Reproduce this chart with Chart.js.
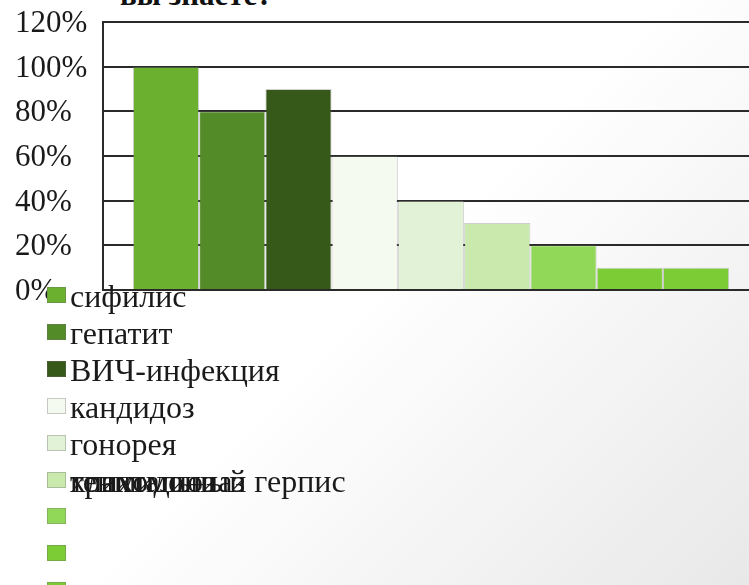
<!DOCTYPE html>
<html>
<head>
<meta charset="utf-8">
<script src="https://cdn.jsdelivr.net/npm/chart.js@4"></script>
<style>
  html, body {
    margin: 0;
    width: 749px;
    height: 585px;
    overflow: hidden;
    background: linear-gradient(135deg, #ffffff 50%, #e8e8e8 100%);
  }
  #wrap {
    position: absolute;
    left: 0;
    top: 0;
    width: 770px;
    height: 585px;
  }
  #title {
    position: absolute;
    left: 120px;
    top: -21px;
    font: bold 31px "Liberation Serif", serif;
    line-height: 31px;
    color: #111;
    white-space: nowrap;
  }
  #chart { position: absolute; left: 0; top: 0; }
  #legend .box {
    position: absolute;
    left: 47px;
    width: 19px;
    height: 16px;
    box-sizing: border-box;
    border: 1px solid rgba(110, 110, 110, 0.35);
  }
  #legend .txt {
    position: absolute;
    left: 70px;
    font: 32px "Liberation Serif", serif;
    line-height: 32px;
    color: #1a1a1a;
    white-space: nowrap;
  }
</style>
</head>
<body>
<div id="wrap">
  <div id="title">вы знаете?</div>
  <canvas id="chart" width="770" height="585"></canvas>
  <div id="legend"></div>
</div>
<script>
const diseases = [
  "сифилис",
  "гепатит",
  "ВИЧ-инфекция",
  "кандидоз",
  "гонорея",
  "трихомониаз",
  "хламидиоз",
  "генитальный герпис",
  "",
];
const shares = [100, 80, 90, 60, 40, 30, 20, 10, 10]; // %
const yTicks = [0, 20, 40, 60, 80, 100, 120];

const barColors = [
  "#6cb030", "#548b29", "#36591a",
  "#f4faef", "#e1f2d7", "#caeaad",
  "#92d858", "#7bcc35", "#7bcc35",
];

const ctx = document.getElementById("chart").getContext("2d");

const chart = new Chart(ctx, {
  type: "bar",
  data: {
    labels: [""],
    datasets: diseases.map((name, i) => ({
      label: name,
      data: [shares[i]],
      backgroundColor: barColors[i],
      borderColor: "rgba(120, 120, 120, 0.35)",
      borderWidth: 1,
      categoryPercentage: 0.909,
      barPercentage: 1,
    })),
  },
  options: {
    responsive: false,
    animation: false,
    devicePixelRatio: 1,
    layout: {
      padding: { left: 15, top: 22, right: 11, bottom: 295 },
    },
    plugins: {
      legend: { display: false },
      tooltip: { enabled: false },
    },
    scales: {
      x: { display: false },
      y: {
        min: yTicks[0],
        max: yTicks[yTicks.length - 1],
        afterBuildTicks: (s) => {
          s.ticks = yTicks.map((v) => ({ value: v }));
        },
        afterFit: (s) => {
          s.width = 88;
        },
        ticks: {
          crossAlign: "far",
          padding: 0,
          labelOffset: 2,
          color: "#1a1a1a",
          font: { family: "Liberation Serif", size: 31 },
          callback: (v) => v + "%",
        },
        grid: { color: "#2a2a2a", lineWidth: 2, drawTicks: false },
        border: { color: "#2a2a2a", width: 2 },
      },
    },
  },
});

// legend: boxes in one column, the last labels pile up on row 6 like in the slide
const legend = document.getElementById("legend");
chart.data.datasets.forEach((ds, i) => {
  const box = document.createElement("div");
  box.className = "box";
  box.style.top = 287 + i * 36.9 + "px";
  box.style.background = ds.backgroundColor;
  legend.appendChild(box);

  if (ds.label) {
    const row = Math.min(i, 5);
    const txt = document.createElement("div");
    txt.className = "txt";
    txt.style.top = 280 + row * 36.9 + "px";
    txt.textContent = ds.label;
    legend.appendChild(txt);
  }
});
</script>
</body>
</html>
